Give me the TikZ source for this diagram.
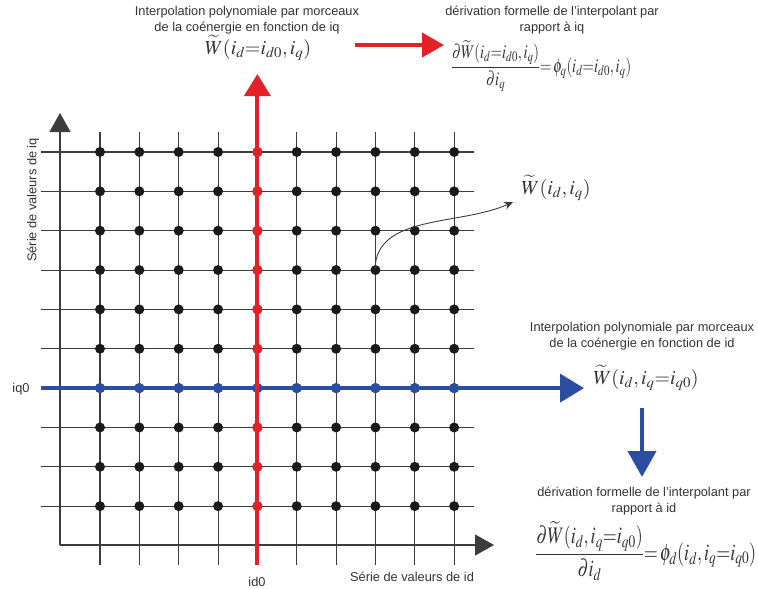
\documentclass[tikz,border=0pt]{standalone}
\usepackage{amsmath}
\usepackage{mathptmx}
\usepackage{fontspec}
\setmainfont{Liberation Sans}
\usetikzlibrary{arrows.meta}
\definecolor{gridc}{HTML}{3C3C3C}
\definecolor{dotc}{HTML}{1A1A1A}
\definecolor{redc}{HTML}{E52128}
\definecolor{bluec}{HTML}{2B4EA2}
\definecolor{txtc}{HTML}{333333}
\begin{document}
\begin{tikzpicture}[x=1pt,y=-1pt,
  gridline/.style={gridc,line width=1.1pt},
  axisline/.style={gridc,line width=1.1pt,-{Triangle[length=19pt,width=21pt]}},
  dotnode/.style={circle,fill=#1,inner sep=0pt,minimum size=10pt},
  lbl/.style={font=\fontsize{12.8}{16}\selectfont,text=txtc,align=center,inner sep=0pt},
  formula/.style={font=\fontsize{20}{24}\selectfont,text=txtc,inner sep=0pt},
  bigred/.style={redc,line width=4pt,-{Triangle[length=22pt,width=26pt]}},
  bigblue/.style={bluec,line width=4pt,-{Triangle[length=24pt,width=28pt]}},
]
\useasboundingbox (0,0) rectangle (758,589);
% grid
\foreach \i in {0,...,9}{
  \draw[gridline] ({100+39.35*\i},132) -- ({100+39.35*\i},565);
  \draw[gridline] (41,{152+39.35*\i}) -- (474,{152+39.35*\i});
}
% axes
\coordinate (O) at (60,545);
\coordinate (Ytip) at (60,113);
\coordinate (Xtip) at (494,545);
\draw[axisline] (O) -- (Ytip);
\draw[axisline] (O) -- (Xtip);
% black dots
\foreach \i in {0,...,9}{
  \foreach \j in {0,...,9}{
    \node[dotnode=dotc] at ({100+39.35*\i},{152+39.35*\j}) {};
  }
}
% blue line
\coordinate (Bstart) at (41,388.1);
\coordinate (Bend) at (584,388.1);
\draw[bigblue] (Bstart) -- (Bend);
\foreach \i in {0,...,9}{
  \node[dotnode=bluec] at ({100+39.35*\i},388.1) {};
}
% red line
\coordinate (Rstart) at (257.4,565);
\coordinate (Rend) at (257.4,74);
\draw[bigred] (Rstart) -- (Rend);
\foreach \j in {0,1,2,3,4,5,7,8,9}{
  \node[dotnode=redc] at (257.4,{152+39.35*\j}) {};
}
% axis labels
\node[lbl,rotate=90] (ylab) at (33,200) {Série de valeurs de iq};
\node[lbl] (xlab) at (412,577) {Série de valeurs de id};
\node[lbl] (iq0) at (21,389) {iq0};
\node[lbl] (id0) at (257,582) {id0};
% top left
\node[lbl] (t1) at (247,20) {Interpolation polynomiale par morceaux\\de la coénergie en fonction de iq};
\node[formula] (Wq) at (258,48) {$\widetilde{W}(i_d{=}i_{d0},i_q)$};
% top right
\node[lbl] (t2) at (552,20) {dérivation formelle de l'interpolant par\\rapport à iq};
\node[formula,anchor=west] (Dq) at (451,66) {\resizebox*{180pt}{51pt}{$\dfrac{\partial\widetilde{W}(i_d{=}i_{d0},i_q)}{\partial i_q}{=}\,\phi_q(i_d{=}i_{d0},i_q)$}};
\coordinate (Ra1) at (355,45);
\coordinate (Ra2) at (444,45);
\draw[redc,line width=4pt,-{Triangle[length=22pt,width=24pt]}] (Ra1) -- (Ra2);
% middle right
\node[formula] (Wdq) at (556,188) {$\widetilde{W}(i_d,i_q)$};
\coordinate (P) at (375.05,269.05);
\coordinate (Ct) at (513,202);
\draw[gridc,line width=0.9pt,-{Stealth[length=9pt,width=8pt]}] (P) .. controls (376,214) and (460,226) .. (Ct);
% right
\node[lbl] (t3) at (642,336) {Interpolation polynomiale par morceaux\\de la coénergie en fonction de id};
\node[formula] (Wd) at (646,378) {$\widetilde{W}(i_d,i_q{=}i_{q0})$};
\coordinate (Ba1) at (642,408);
\coordinate (Ba2) at (642,477);
\draw[bluec,line width=4pt,-{Triangle[length=26pt,width=28pt]}] (Ba1) -- (Ba2);
\node[lbl] (t4) at (644,501) {dérivation formelle de l'interpolant par\\rapport à id};
\node[formula,anchor=west] (Dd) at (535,551) {\resizebox*{221pt}{59pt}{$\dfrac{\partial\widetilde{W}(i_d,i_q{=}i_{q0})}{\partial i_d}{=}\,\phi_d(i_d,i_q{=}i_{q0})$}};
\end{tikzpicture}
\end{document}
